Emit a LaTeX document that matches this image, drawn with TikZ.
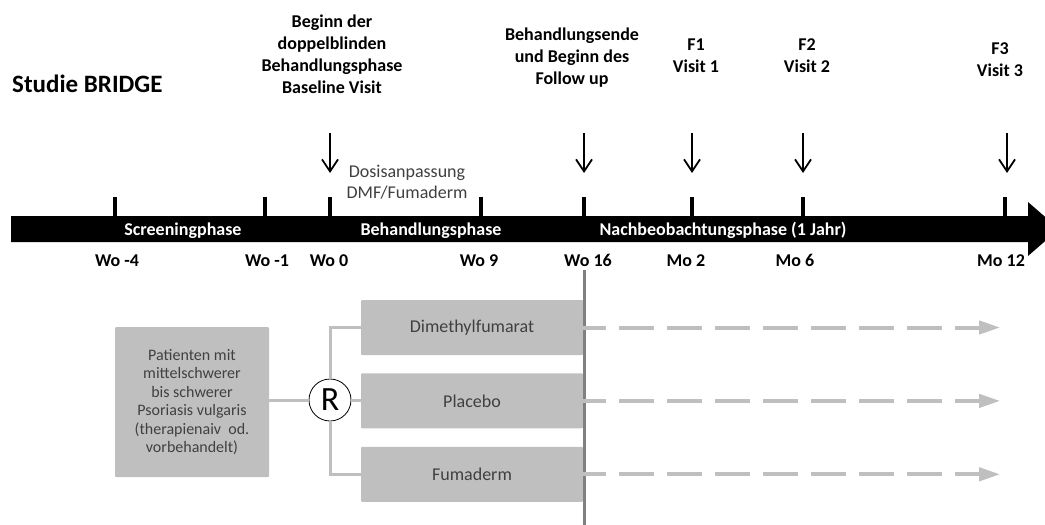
\documentclass[tikz,border=0pt]{standalone}
\usepackage{fontspec}
\setmainfont{Carlito}
\usetikzlibrary{arrows.meta,positioning}

\definecolor{boxgray}{RGB}{191,191,191}
\definecolor{sepgray}{RGB}{128,128,128}
\definecolor{textgray}{RGB}{64,64,64}

\begin{document}
\begin{tikzpicture}[x=1pt,y=-1pt,
  lbl/.style={font=\bfseries\fontsize{18}{22}\selectfont,align=center,inner sep=0pt},
  barlbl/.style={lbl,text=white,anchor=base},
  armbox/.style={rectangle,fill=boxgray,text=textgray,minimum width=222pt,minimum height=55pt,rounded corners=1pt,font=\fontsize{18}{22}\selectfont},
  branch/.style={draw=boxgray,line width=3pt},
  followup/.style={draw=boxgray,line width=4pt,dash pattern=on 35pt off 13pt,dash phase=12pt,-{Triangle[length=21pt,width=13pt]}},
  visit/.style={draw=black,line width=1.8pt,-{Straight Barb[length=12pt,width=16pt]}}]
  \useasboundingbox (0,0) rectangle (1045,525);

  % title
  \node[lbl,anchor=base west,font=\bfseries\fontsize{25}{30}\selectfont] (title) at (12,92) {Studie BRIDGE};

  % timeline
  \fill (11,216) -- (1028,216) -- (1028,202) -- (1059,229) -- (1028,256) -- (1028,242) -- (11,242) -- cycle;
  \foreach \x in {115,265,330,481,584,692,803,1005}
    \draw[line width=3.3pt] (\x,197) -- (\x,217);
  \node[barlbl] (screen) at (183,235) {Screeningphase};
  \node[barlbl] (treat) at (431,235) {Behandlungsphase};
  \node[barlbl] (follow) at (723,235) {Nachbeobachtungsphase (1 Jahr)};
  \foreach \x/\t [count=\i] in {117/Wo -4,267/Wo -1,329/Wo 0,479/Wo 9,588/Wo 16,686/Mo 2,795/Mo 6,1001/Mo 12}
    \node[lbl,anchor=base] (week\i) at (\x,266) {\t};

  % visits
  \node[lbl] (baseline) at (332,54) {Beginn der\\doppelblinden\\Behandlungsphase\\Baseline Visit};
  \node[lbl] (fustart) at (572,58) {Behandlungsende\\und Beginn des\\Follow up};
  \node[lbl] (fone) at (696,56) {F1\\Visit 1};
  \node[lbl] (ftwo) at (807,56) {F2\\Visit 2};
  \node[lbl] (fthree) at (1000,60) {F3\\Visit 3};
  \foreach \x/\n in {330/base,584/end,692/one,803/two,1007/three}{
    \coordinate (\n top) at (\x,133);
    \coordinate (\n tip) at (\x,173);
    \draw[visit] (\n top) -- (\n tip);
  }
  \node[font=\fontsize{18}{21}\selectfont,text=textgray,align=center,inner sep=0pt] (dose) at (407,182.5) {Dosisanpassung\\DMF/Fumaderm};

  % study arms
  \node[rectangle,fill=boxgray,text=textgray,minimum width=154pt,minimum height=150pt,align=center,rounded corners=1pt,font=\fontsize{16}{18.5}\selectfont] (patients) at (192,402) {Patienten mit\\mittelschwerer\\bis schwerer\\Psoriasis vulgaris\\(therapienaiv~ od.\\vorbehandelt)};
  \node[circle,draw=black,line width=0.8pt,fill=white,minimum size=42pt,inner sep=0pt,font=\fontsize{34}{34}\selectfont] (rand) at (330,400) {R};
  \node[armbox] (dmf) at (472,327.5) {Dimethylfumarat};
  \node[armbox,below=18pt of dmf] (placebo) {Placebo};
  \node[armbox,below=18pt of placebo] (fum) {Fumaderm};
  \draw[branch] (patients.east |- rand) -- (rand);
  \draw[branch] (rand.east) -- (rand.east -| placebo.west);
  \draw[branch] (rand.north) |- (dmf.west);
  \draw[branch] (rand.south) |- (fum.west);

  % end of treatment
  \coordinate (septop) at (584,270);
  \coordinate (sepbot) at (584,525);
  \draw[sepgray,line width=3pt] (septop) -- (sepbot);
  \foreach \arm in {dmf,placebo,fum}{
    \coordinate (\arm end) at ([xshift=417pt]\arm.east);
    \draw[followup] (\arm.east) -- (\arm end);
  }
\end{tikzpicture}
\end{document}
